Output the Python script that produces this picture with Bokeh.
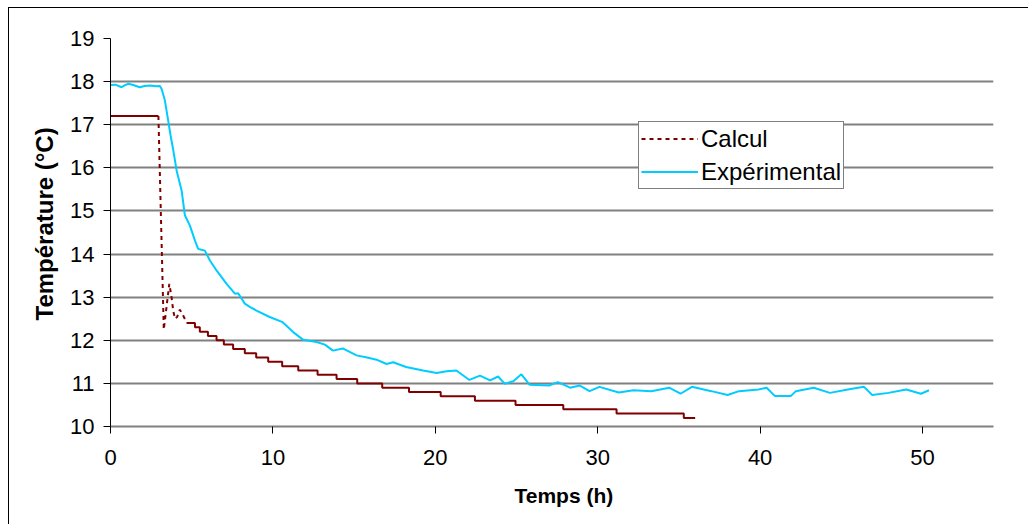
from bokeh.plotting import figure
from bokeh.models import Range1d, FixedTicker, Legend, LegendItem, Title
from bokeh.embed import file_html
from bokeh.resources import INLINE

# ---- data ----
x_ticks = [0, 10, 20, 30, 40, 50]
y_ticks = [10, 11, 12, 13, 14, 15, 16, 17, 18, 19]

# Calcul: initial plateau
calc_start_t = [0.0, 2.95]
calc_start_v = [17.2, 17.2]
# Calcul: transient (drop and rebound)
calc_tr_t = [2.95, 3.28, 3.45, 3.62, 3.76, 3.86, 3.97, 4.10, 4.27, 4.48, 4.68]
calc_tr_v = [17.2, 12.25, 12.77, 13.31, 13.0, 12.69, 12.5, 12.54, 12.71, 12.57, 12.42]
# Calcul: quantised steps (start time of each level, last entry = end)
calc_step_t = [4.68, 5.2, 5.5, 6.0, 6.53, 6.98, 7.55, 8.27, 8.97, 9.71, 10.57,
               11.56, 12.75, 13.92, 15.19, 16.73, 18.38, 20.33, 22.44, 24.94,
               27.88, 31.16, 35.3, 36.0]
calc_step_v = [12.4, 12.3, 12.2, 12.1, 12.0, 11.9, 11.8, 11.7, 11.6, 11.5, 11.4,
               11.3, 11.2, 11.1, 11.0, 10.9, 10.8, 10.7, 10.6, 10.5,
               10.4, 10.3, 10.2, 10.2]

# Expérimental
exp_t = [0, 0.3, 0.68, 0.9, 1.1, 1.4, 1.8, 2.1, 2.43, 2.8, 3.04, 3.15, 3.35, 3.55,
         3.7, 3.86, 4.07, 4.38, 4.58, 4.89, 5.2, 5.4, 5.6, 5.81, 6.12, 6.53, 7.15,
         7.66, 7.86, 8.27, 8.6, 8.99, 9.8, 10.6, 11.25, 11.87, 12.69, 13.2, 13.7,
         14.3, 15.15, 15.8, 16.38, 17.0, 17.4, 18.2, 19.25, 20.08, 20.7, 21.3, 22.1,
         22.75, 23.37, 23.87, 24.28, 24.8, 25.3, 25.8, 27.0, 27.55, 28.3, 28.9, 29.5,
         30.1, 31.3, 32.2, 33.3, 34.4, 35.1, 35.8, 37.0, 38.0, 38.7, 39.9, 40.4,
         40.9, 41.9, 42.2, 43.3, 44.3, 45.4, 46.4, 46.9, 47.9, 49.0, 49.9, 50.4]
exp_v = [17.92, 17.93, 17.87, 17.92, 17.95, 17.92, 17.87, 17.9, 17.91, 17.89, 17.9,
         17.83, 17.56, 17.1, 16.75, 16.42, 15.94, 15.47, 14.9, 14.66, 14.31, 14.12,
         14.1, 14.08, 13.85, 13.62, 13.31, 13.08, 13.09, 12.85, 12.77, 12.69, 12.54,
         12.42, 12.19, 12.01, 11.96, 11.9, 11.76, 11.81, 11.65, 11.6, 11.55, 11.45,
         11.49, 11.38, 11.3, 11.24, 11.28, 11.3, 11.08, 11.18, 11.07, 11.16, 10.99,
         11.05, 11.21, 10.97, 10.95, 11.03, 10.9, 10.95, 10.82, 10.92, 10.79, 10.84,
         10.82, 10.9, 10.76, 10.92, 10.82, 10.73, 10.82, 10.86, 10.9, 10.71, 10.71,
         10.82, 10.9, 10.78, 10.86, 10.92, 10.73, 10.78, 10.86, 10.76, 10.84]

FONT = "Liberation Sans"
CALC_COLOR = "#800000"
EXP_COLOR = "#00CCFF"
GRID = "#808080"

p = figure(width=1020, height=517, output_backend="svg", toolbar_location=None,
           x_range=Range1d(0, 54.37), y_range=Range1d(10, 19),
           min_border_left=101, min_border_right=36, min_border_top=30,
           min_border_bottom=99, background_fill_color="white",
           border_fill_color="white")
p.styles = {"margin-left": "8px", "margin-top": "7px",
            "border-left": "1px solid black", "border-top": "1px solid black"}
p.outline_line_color = None

# lines
r_calc0 = p.line(calc_start_t, calc_start_v, line_color=CALC_COLOR, line_width=2)
r_calc = p.line(calc_tr_t, calc_tr_v, line_color=CALC_COLOR, line_width=2,
                line_dash="4 4")
r_calc2 = p.step(calc_step_t, calc_step_v, mode="after", line_color=CALC_COLOR,
                 line_width=2)
r_exp = p.line(exp_t, exp_v, line_color=EXP_COLOR, line_width=2)

# axes
p.xaxis.ticker = FixedTicker(ticks=x_ticks)
p.yaxis.ticker = FixedTicker(ticks=y_ticks)
for ax in (p.xaxis[0], p.yaxis[0]):
    ax.major_tick_out = 7
    ax.major_tick_in = 0
    ax.minor_tick_line_color = None
    ax.major_tick_line_color = "black"
    ax.major_label_text_font = FONT
    ax.major_label_text_font_size = "22px"
    ax.major_label_text_color = "black"
p.yaxis.axis_line_color = "black"
p.yaxis.axis_line_width = 1
p.yaxis.major_label_standoff = 9
p.xaxis.axis_line_color = GRID
p.xaxis.axis_line_width = 2
p.xaxis.major_label_standoff = 16

yt = Title(text="Température (°C)", align="left", offset=106, text_font=FONT,
           text_font_size="24px", text_font_style="bold", text_color="black",
           standoff=20)
p.add_layout(yt, "left")

xt = Title(text="Temps (h)", align="left", offset=404, text_font=FONT,
           text_font_size="21px", text_font_style="bold", text_color="black",
           standoff=28)
p.add_layout(xt, "below")

p.xgrid.visible = False
p.ygrid.grid_line_color = GRID
p.ygrid.grid_line_width = 2

legend = Legend(items=[LegendItem(label="Calcul", renderers=[r_calc]),
                       LegendItem(label="Expérimental", renderers=[r_exp])],
                location=(528, 237), orientation="vertical",
                border_line_color="black", border_line_width=1,
                background_fill_color="white", background_fill_alpha=1,
                padding=2, margin=0, spacing=4, glyph_width=57, glyph_height=29,
                label_height=29, label_standoff=3,
                label_text_font=FONT, label_text_font_size="24px",
                label_text_color="black")
p.add_layout(legend, "center")

open("out.html", "w").write(file_html(p, INLINE))
